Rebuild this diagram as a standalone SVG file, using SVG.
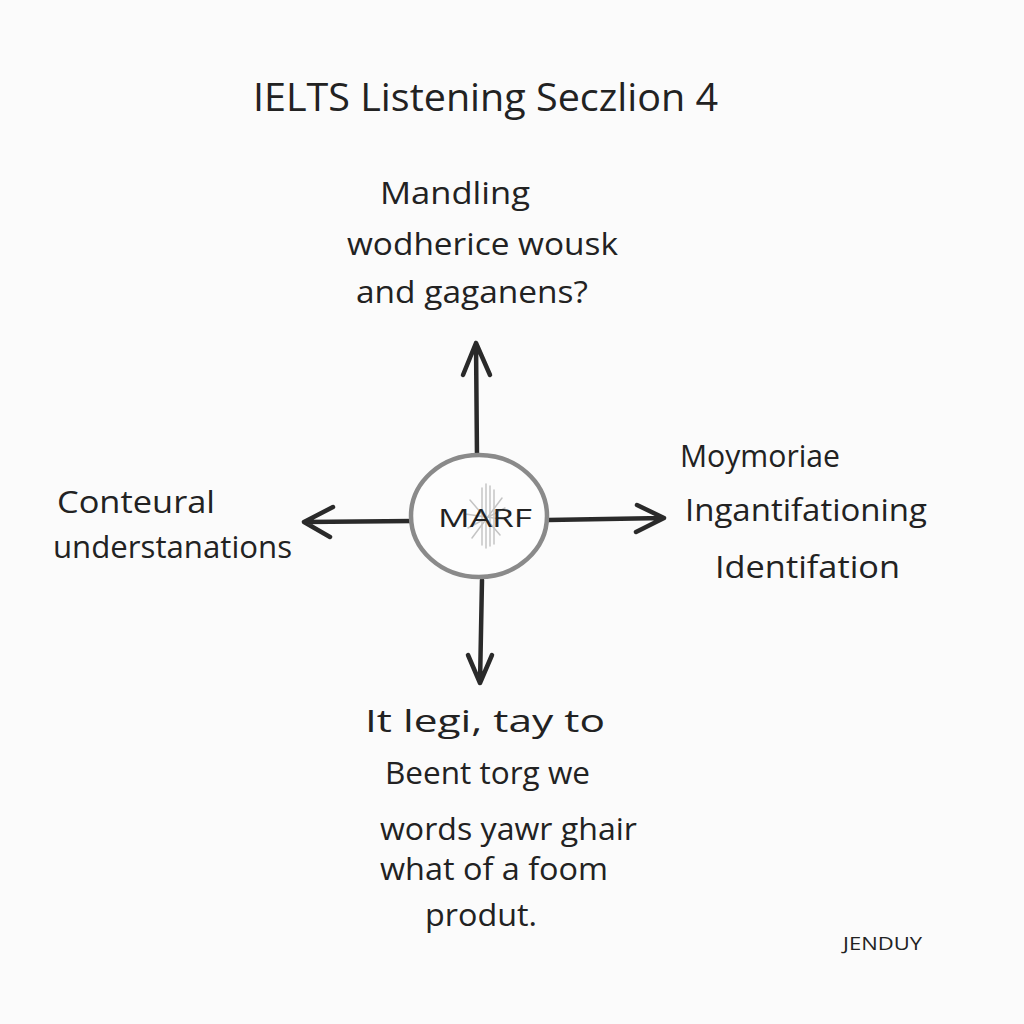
<svg xmlns="http://www.w3.org/2000/svg" width="1024" height="1024" viewBox="0 0 1024 1024">
<style>
  .t{font-family:"Open Sans","Liberation Sans",sans-serif;fill:#222;}
  .lbl{font-size:31px;}
  .arrow{fill:none;stroke:#2a2a2a;stroke-width:4.5;stroke-linecap:round;stroke-linejoin:round;}
  .ray{stroke:#c4c4c4;stroke-width:1.5;stroke-linecap:round;}
</style>
<rect width="1024" height="1024" fill="#fbfbfb"/>
<g id="title">
  <text class="t" x="253" y="111" font-size="39" textLength="465" lengthAdjust="spacingAndGlyphs">IELTS Listening Seczlion 4</text>
</g>
<g id="connectors">
  <path class="arrow" d="M477 458 L476 343 M463 375 L476 343 L490 375"/>
  <path class="arrow" d="M413 521 L304 522 M333 507 L304 522 L330 537"/>
  <path class="arrow" d="M548 520 L664 518 M637 505 L664 518 L636 532"/>
  <path class="arrow" d="M482 580 L480 683 M468 655 L480 683 L492 655"/>
</g>
<g id="center">
  <ellipse cx="479" cy="516" rx="68" ry="61" fill="#fdfdfd" stroke="#8a8a8a" stroke-width="4.5"/>
  <g>
    <line class="ray" x1="486" y1="484" x2="486" y2="548"/>
    <line class="ray" x1="482" y1="488" x2="482" y2="545"/>
    <line class="ray" x1="490" y1="486" x2="490" y2="546"/>
    <line class="ray" x1="494" y1="490" x2="494" y2="544"/>
    <line class="ray" x1="470" y1="500" x2="500" y2="535"/>
    <line class="ray" x1="502" y1="498" x2="472" y2="538"/>
    <line class="ray" x1="465" y1="514" x2="508" y2="520"/>
    <line class="ray" x1="468" y1="528" x2="505" y2="508"/>
  </g>
  <text class="t" x="485" y="527" font-size="25" text-anchor="middle" textLength="94" lengthAdjust="spacingAndGlyphs">MARF</text>
</g>
<g id="node-top">
  <text class="t lbl" x="380" y="204" textLength="150" lengthAdjust="spacingAndGlyphs">Mandling</text>
  <text class="t lbl" x="347" y="255" textLength="271" lengthAdjust="spacingAndGlyphs">wodherice wousk</text>
  <text class="t lbl" x="356" y="303" textLength="232" lengthAdjust="spacingAndGlyphs">and gaganens?</text>
</g>
<g id="node-left">
  <text class="t lbl" x="57" y="513" textLength="158" lengthAdjust="spacingAndGlyphs">Conteural</text>
  <text class="t lbl" x="53" y="558" textLength="239" lengthAdjust="spacingAndGlyphs">understanations</text>
</g>
<g id="node-right">
  <text class="t lbl" x="680" y="467" textLength="160" lengthAdjust="spacingAndGlyphs">Moymoriae</text>
  <text class="t lbl" x="685" y="521" textLength="242" lengthAdjust="spacingAndGlyphs">Ingantifationing</text>
  <text class="t lbl" x="715" y="578" textLength="185" lengthAdjust="spacingAndGlyphs">Identifation</text>
</g>
<g id="node-bottom">
  <text class="t lbl" x="365" y="732" textLength="240" lengthAdjust="spacingAndGlyphs">It legi, tay to</text>
  <text class="t lbl" x="385" y="784" textLength="205" lengthAdjust="spacingAndGlyphs">Beent torg we</text>
  <text class="t lbl" x="380" y="840" textLength="257" lengthAdjust="spacingAndGlyphs">words yawr ghair</text>
  <text class="t lbl" x="380" y="880" textLength="228" lengthAdjust="spacingAndGlyphs">what of a foom</text>
  <text class="t lbl" x="425" y="926" textLength="112" lengthAdjust="spacingAndGlyphs">produt.</text>
</g>
<g id="signature">
  <text class="t" x="843" y="950" font-size="18" textLength="79" lengthAdjust="spacingAndGlyphs">JENDUY</text>
</g>
</svg>
